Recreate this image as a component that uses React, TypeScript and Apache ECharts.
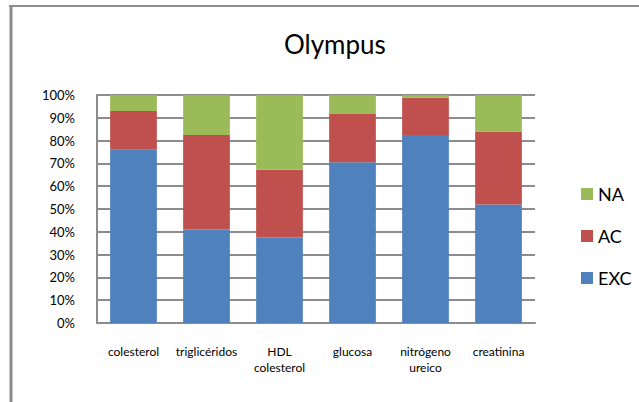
import React, { useEffect, useRef } from "react";
import * as echarts from "echarts";

const categories = ["colesterol", "triglicéridos", "HDL\ncolesterol", "glucosa", "nitrógeno\nureico", "creatinina"];
const excValues = [76, 41, 37.5, 70.5, 82.5, 52];
const acValues = [17, 41.5, 29.7, 21.2, 16.3, 32];
const naValues = [7, 17.5, 32.8, 8.3, 1.2, 16];
const legendOrder = ["NA", "AC", "EXC"];
const titleText = "Olympus";

const FONT = "Lato, 'Open Sans', sans-serif";

export default function App() {
  const ref = useRef<HTMLDivElement>(null);
  useEffect(() => {
    document.body.style.margin = "0";
    const chart = echarts.init(ref.current!, null, { renderer: "svg" });
    const barCommon = {
      type: "bar" as const,
      stack: "total",
      barWidth: "64%",
    };
    chart.setOption({
      animation: false,
      backgroundColor: "#ffffff",
      textStyle: { fontFamily: FONT },
      title: {
        text: titleText,
        left: 279,
        top: 26,
        textStyle: { fontFamily: FONT, fontSize: 26, fontWeight: "normal", color: "#000" },
      },
      legend: {
        orient: "vertical",
        left: 576,
        top: 180,
        data: legendOrder,
        icon: "rect",
        itemWidth: 12,
        itemHeight: 12,
        itemGap: 24,
        textStyle: { fontFamily: FONT, fontSize: 18, color: "#000", lineHeight: 18, padding: [0, 0, 0, 0] },
      },
      grid: { left: 97, right: 104, top: 95, bottom: 79, containLabel: false },
      xAxis: {
        type: "category",
        data: categories,
        axisLine: { lineStyle: { color: "#8c8c8c", width: 2 } },
        axisTick: { show: false },
        axisLabel: { fontFamily: FONT, fontSize: 12, color: "#000", margin: 20, lineHeight: 16, interval: 0 },
      },
      yAxis: {
        type: "value",
        min: 0,
        max: 100,
        interval: 10,
        axisLine: { show: true, lineStyle: { color: "#8c8c8c", width: 2 } },
        axisTick: { show: false },
        splitLine: { lineStyle: { color: "#8c8c8c", width: 2 } },
        axisLabel: { fontFamily: FONT, fontSize: 13, color: "#000", margin: 22, formatter: "{value}%" },
      },
      series: [
        { ...barCommon, name: "EXC", data: excValues, itemStyle: { color: "#4F81BD" } },
        { ...barCommon, name: "AC", data: acValues, itemStyle: { color: "#C0504D" } },
        { ...barCommon, name: "NA", data: naValues, itemStyle: { color: "#9BBB59" } },
      ],
      graphic: [
        { type: "line", shape: { x1: 9, y1: 6, x2: 639, y2: 6 }, style: { stroke: "#8c8c8c", lineWidth: 2 } },
        { type: "line", shape: { x1: 11, y1: 5, x2: 11, y2: 402 }, style: { stroke: "#8c8c8c", lineWidth: 3 } },
      ],
    });
    return () => chart.dispose();
  }, []);
  return <div ref={ref} style={{ width: 639, height: 402 }} />;
}
